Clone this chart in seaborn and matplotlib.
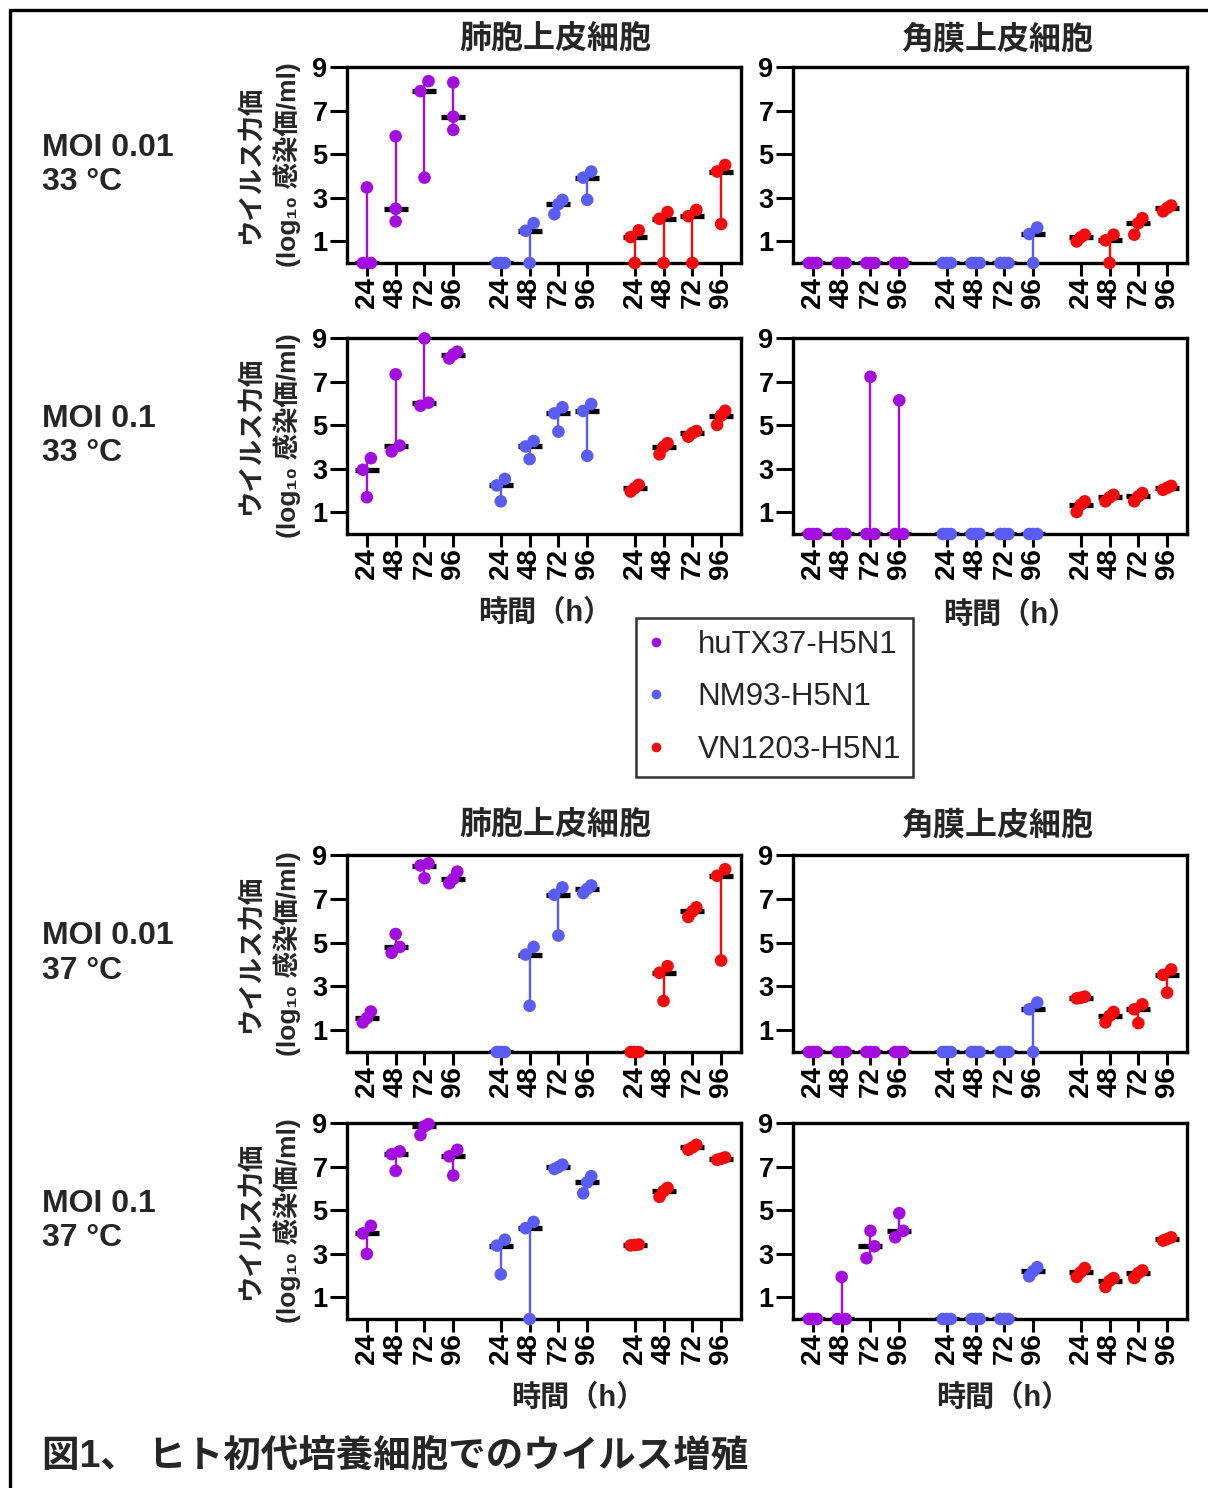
import numpy as np
import pandas as pd
import seaborn as sns
import matplotlib.pyplot as plt
from matplotlib.lines import Line2D
from matplotlib.patches import Rectangle

# ---------------- data ----------------
strains = ["huTX37-H5N1", "NM93-H5N1", "VN1203-H5N1"]
times = ["24", "48", "72", "96"]
cell_types = ["肺胞上皮細胞", "角膜上皮細胞"]
conditions = ["MOI 0.01\n33 °C", "MOI 0.1\n33 °C", "MOI 0.01\n37 °C", "MOI 0.1\n37 °C"]
y_label_1 = "ウイルス力価"
y_label_2 = "(log₁₀ 感染価/ml)"
x_label = "時間（h）"
caption = "図1、 ヒト初代培養細胞でのウイルス増殖"
y_ticks = [1, 3, 5, 7, 9]

# triplicate log10 titers, order: strain (huTX37, NM93, VN1203) x time (24, 48, 72, 96)
lung_moi001_33 = [
    [0, 0, 3.47], [1.91, 2.49, 5.82], [3.92, 7.89, 8.35], [6.11, 6.72, 8.29],
    [0, 0, 0], [0, 1.48, 1.83], [2.24, 2.70, 2.90], [2.90, 3.92, 4.20],
    [0, 1.19, 1.50], [0, 2.03, 2.34], [0, 2.15, 2.44], [1.79, 4.20, 4.50]]
cornea_moi001_33 = [
    [0, 0, 0], [0, 0, 0], [0, 0, 0], [0, 0, 0],
    [0, 0, 0], [0, 0, 0], [0, 0, 0], [0, 1.33, 1.63],
    [0.99, 1.18, 1.30], [0, 1.04, 1.30], [1.30, 1.83, 2.06], [2.37, 2.52, 2.64]]
lung_moi01_33 = [
    [1.69, 2.95, 3.48], [3.79, 4.06, 7.33], [5.89, 6.03, 8.98], [8.06, 8.24, 8.37],
    [1.50, 2.23, 2.53], [3.44, 4.02, 4.27], [4.70, 5.54, 5.82], [3.59, 5.65, 5.97],
    [1.95, 2.11, 2.26], [3.66, 4.00, 4.17], [4.47, 4.63, 4.73], [5.01, 5.44, 5.66]]
cornea_moi01_33 = [
    [0, 0, 0], [0, 0, 0], [0, 0, 7.22], [0, 0, 6.14],
    [0, 0, 0], [0, 0, 0], [0, 0, 0], [0, 0, 0],
    [1.01, 1.34, 1.50], [1.50, 1.68, 1.80], [1.50, 1.73, 1.88], [2.03, 2.12, 2.21]]
lung_moi001_37 = [
    [1.35, 1.55, 1.85], [4.53, 4.80, 5.39], [7.94, 8.52, 8.62], [7.71, 7.91, 8.24],
    [0, 0, 0], [2.11, 4.45, 4.80], [5.32, 7.18, 7.52], [7.26, 7.45, 7.61],
    [0, 0, 0], [2.33, 3.62, 3.92], [6.17, 6.42, 6.61], [4.18, 8.05, 8.35]]
cornea_moi001_37 = [
    [0, 0, 0], [0, 0, 0], [0, 0, 0], [0, 0, 0],
    [0, 0, 0], [0, 0, 0], [0, 0, 0], [0, 1.95, 2.26],
    [2.45, 2.48, 2.53], [1.35, 1.65, 1.83], [1.32, 1.95, 2.18], [2.71, 3.52, 3.77]]
lung_moi01_37 = [
    [2.99, 3.93, 4.28], [6.80, 7.57, 7.70], [8.45, 8.85, 8.95], [6.59, 7.47, 7.77],
    [2.05, 3.37, 3.64], [0, 4.17, 4.46], [6.89, 6.98, 7.09], [5.77, 6.28, 6.56],
    [3.38, 3.40, 3.42], [5.61, 5.87, 6.02], [7.77, 7.88, 8.00], [7.31, 7.36, 7.42]]
cornea_moi01_37 = [
    [0, 0, 0], [0, 0, 1.93], [2.79, 3.34, 4.05], [3.75, 4.05, 4.86],
    [0, 0, 0], [0, 0, 0], [0, 0, 0], [1.96, 2.20, 2.38],
    [1.93, 2.15, 2.34], [1.47, 1.75, 1.88], [1.88, 2.11, 2.23], [3.60, 3.67, 3.75]]

panel_data = [
    [lung_moi001_33, cornea_moi001_33],
    [lung_moi01_33, cornea_moi01_33],
    [lung_moi001_37, cornea_moi001_37],
    [lung_moi01_37, cornea_moi01_37],
]

colors = {"huTX37-H5N1": "#A30DDF", "NM93-H5N1": "#5A5CF6", "VN1203-H5N1": "#F40B0B"}

# ---------------- style ----------------
sns.set_theme(style="white")
plt.rcParams["font.family"] = ["Liberation Sans", "Noto Sans CJK JP", "DejaVu Sans"]
plt.rcParams["axes.unicode_minus"] = False

W, H = 1208, 1488
fig = plt.figure(figsize=(W / 100, H / 100), dpi=100)
fig.patch.set_facecolor("white")

GROUP_GAP = 4.65
OFFSET = 0.14
CLUSTER = 0.55


def build_frame(arr):
    rows = []
    for si, s in enumerate(strains):
        for ti, t in enumerate(times):
            vals = arr[si * 4 + ti]
            center = si * GROUP_GAP + ti
            order = list(np.argsort(vals, kind="stable"))
            clusters = [[order[0]]]
            for k in range(1, len(order)):
                if vals[order[k]] - vals[order[k - 1]] < CLUSTER:
                    clusters[-1].append(order[k])
                else:
                    clusters.append([order[k]])
            offs = {}
            for c in clusters:
                n = len(c)
                for j, idx in enumerate(c):
                    offs[idx] = 0.0 if n == 1 else (j - (n - 1) / 2) * OFFSET * 2 / (n - 1)
            for i, v in enumerate(vals):
                rows.append({"strain": s, "time": t, "center": center,
                             "xpos": center + offs[i], "value": v})
    return pd.DataFrame(rows)


def px_rect(l, t, r, b):
    return [l / W, 1 - b / H, (r - l) / W, (b - t) / H]


col_x = [(347, 741), (793, 1187)]
row_y = [(67, 263), (338, 534), (855, 1052), (1123, 1319)]
centers = [si * GROUP_GAP + ti for si in range(3) for ti in range(4)]

for r in range(4):
    for c in range(2):
        l, rr = col_x[c]
        t, b = row_y[r]
        ax = fig.add_axes(px_rect(l, t, rr, b))
        df = build_frame(panel_data[r][c])
        med = df.groupby(["strain", "center"], as_index=False)["value"].median()
        # range (min-max) lines in strain colour
        sns.pointplot(data=df, x="center", y="value", hue="strain", hue_order=strains,
                      palette=colors, estimator="median", errorbar=("pi", 100),
                      native_scale=True, dodge=False, linestyle="none", marker="o",
                      markersize=0, err_kws={"linewidth": 1.7}, legend=False, ax=ax)
        # median bars
        sns.scatterplot(data=med, x="center", y="value", marker="_", s=17.5 ** 2,
                        color="black", edgecolor="black", linewidth=3.8, legend=False,
                        zorder=2.5, ax=ax)
        # individual points
        sns.scatterplot(data=df, x="xpos", y="value", hue="strain", hue_order=strains,
                        palette=colors, s=82, linewidth=0, legend=False, zorder=3,
                        clip_on=False, ax=ax)
        ax.set_xlim(-0.69, 2 * GROUP_GAP + 3 + 0.69)
        ax.set_ylim(0, 9)
        ax.set_yticks(y_ticks, labels=[str(v) for v in y_ticks], fontsize=19.5, fontweight="bold")
        ax.set_xticks(centers, labels=times * 3, rotation=90, fontsize=20, fontweight="bold")
        ax.tick_params(axis="y", direction="out", length=12, width=2.2, pad=2, left=True, colors="black")
        ax.tick_params(axis="x", direction="out", length=9, width=2.2, pad=1, bottom=True, colors="black")
        ax.set_xlabel("")
        ax.set_ylabel("")
        for sp in ax.spines.values():
            sp.set_linewidth(2.4)
            sp.set_color("black")
            sp.set_visible(True)
        ax.set_facecolor("white")


def ftext(x, y, s, **kw):
    fig.text(x / W, 1 - y / H, s, **kw)


# column titles
for ty in (40, 826):
    ftext(555, ty, cell_types[0], ha="center", va="center", fontsize=23, fontweight="bold")
    ftext(997, ty, cell_types[1], ha="center", va="center", fontsize=23, fontweight="bold")

# row labels and y labels
for r in range(4):
    t, b = row_y[r]
    cy = (t + b) / 2
    ftext(42, cy, conditions[r], ha="left", va="center", fontsize=23, fontweight="bold",
          linespacing=1.2)
    ftext(250, cy, y_label_1, ha="center", va="center", rotation=90, fontsize=19,
          fontweight="bold")
    ftext(287, cy, y_label_2, ha="center", va="center", rotation=90, fontsize=19,
          fontweight="bold")

# x labels
for (xx, yy) in [(545, 613), (1010, 615), (578, 1398), (1003, 1398)]:
    ftext(xx, yy, x_label, ha="center", va="center", fontsize=21, fontweight="bold")

# legend
handles = [Line2D([0], [0], marker="o", linestyle="none", markersize=7,
                  markerfacecolor=colors[s], markeredgewidth=0) for s in strains]
leg = fig.legend(handles, strains, loc="upper left", bbox_to_anchor=(636 / W, 1 - 618 / H),
                 frameon=True, fancybox=False, edgecolor="black", fontsize=22.5,
                 borderpad=0.38, handlelength=0.5, handletextpad=1.1, labelspacing=0.72,
                 borderaxespad=0)
leg.get_frame().set_linewidth(1.8)

# caption
ftext(42, 1457, caption, ha="left", va="center", fontsize=27, fontweight="bold")

# outer frame
fig.patches.append(Rectangle((10 / W, -0.01), 1.05, 1 - 9.5 / H + 0.01,
                             transform=fig.transFigure, fill=False, edgecolor="black",
                             linewidth=2.4, zorder=10))

fig.savefig("out.png", dpi=100, facecolor="white")
